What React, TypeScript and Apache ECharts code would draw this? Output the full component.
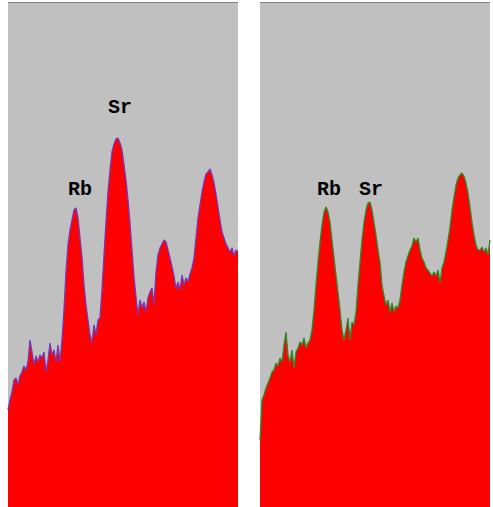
import React, { useEffect, useRef } from "react";
import * as echarts from "echarts";

// Counts per channel, left spectrum
const leftCounts = [
  97, 107, 115, 127, 129, 122, 131, 135, 141, 137, 145, 167, 155, 142, 151, 145, 152, 149, 155, 135,
  147, 164, 152, 157, 145, 162, 145, 167, 197, 235, 262, 277, 287, 297, 299, 289, 269, 250, 222, 202,
  187, 172, 164, 182, 172, 187, 189, 217, 252, 285, 315, 337, 355, 363, 368, 369, 364, 357, 342, 327,
  307, 284, 257, 230, 210, 192, 207, 199, 205, 195, 209, 215, 219, 202, 235, 252, 259, 263, 267, 265,
  257, 249, 240, 231, 218, 225, 217, 232, 222, 229, 225, 233, 239, 249, 269, 289, 302, 315, 325, 333,
  335, 338, 332, 324, 313, 300, 287, 275, 269, 263, 259, 255, 259, 251, 257, 255,
];

// Counts per channel, right spectrum
const rightCounts = [
  67, 107, 112, 119, 124, 129, 135, 137, 144, 141, 149, 145, 162, 175, 152, 145, 157, 139, 155, 159,
  165, 162, 169, 159, 164, 167, 177, 197, 222, 245, 265, 282, 295, 300, 295, 285, 267, 249, 232, 215,
  197, 177, 167, 177, 189, 167, 185, 182, 195, 222, 245, 267, 285, 297, 304, 305, 297, 285, 272, 257,
  245, 222, 211, 202, 207, 195, 204, 195, 201, 199, 207, 222, 235, 245, 251, 257, 261, 269, 265, 269,
  257, 249, 245, 239, 237, 234, 231, 235, 231, 237, 224, 239, 245, 255, 267, 280, 297, 310, 322, 329,
  332, 334, 331, 324, 314, 300, 285, 272, 262, 257, 257, 260, 255, 259, 252, 267,
];

const leftLabels = ["Rb", "Sr"];
const rightLabels = ["Rb", "Sr"];
const yMax = 505;

export default function App() {
  const ref = useRef<HTMLDivElement>(null);
  useEffect(() => {
    if (!ref.current) return;
    const chart = echarts.init(ref.current, null, { renderer: "svg" });
    const cats = (arr: number[]) => arr.map((_, i) => String(i));
    const labelStyle = {
      fill: "#000",
      font: 'bold 20px "Liberation Mono", "DejaVu Sans Mono", monospace',
      textAlign: "center",
      textVerticalAlign: "middle",
    };
    chart.setOption({
      animation: false,
      grid: [
        { left: 8, top: 2, width: 230, height: 505, show: true, backgroundColor: "#c0c0c0", borderWidth: 0 },
        { left: 260, top: 2, width: 230, height: 505, show: true, backgroundColor: "#c0c0c0", borderWidth: 0 },
      ],
      xAxis: [
        { type: "category", gridIndex: 0, data: cats(leftCounts), boundaryGap: false, show: false },
        { type: "category", gridIndex: 1, data: cats(rightCounts), boundaryGap: false, show: false },
      ],
      yAxis: [
        { type: "value", gridIndex: 0, min: 0, max: yMax, show: false },
        { type: "value", gridIndex: 1, min: 0, max: yMax, show: false },
      ],
      series: [
        {
          type: "line",
          xAxisIndex: 0,
          yAxisIndex: 0,
          data: leftCounts,
          showSymbol: false,
          lineStyle: { color: "#7a35b5", width: 1.3 },
          areaStyle: { color: "#ff0000", opacity: 1 },
        },
        {
          type: "line",
          xAxisIndex: 1,
          yAxisIndex: 1,
          data: rightCounts,
          showSymbol: false,
          lineStyle: { color: "#2e8a2a", width: 1.3 },
          areaStyle: { color: "#ff0000", opacity: 1 },
        },
      ],
      graphic: [
        { type: "line", shape: { x1: 8, y1: 2.5, x2: 238, y2: 2.5 }, style: { stroke: "#808080", lineWidth: 1 } },
        { type: "line", shape: { x1: 260, y1: 2.5, x2: 490, y2: 2.5 }, style: { stroke: "#808080", lineWidth: 1 } },
        { type: "text", x: 80, y: 189, style: { ...labelStyle, text: leftLabels[0] } },
        { type: "text", x: 120, y: 107, style: { ...labelStyle, text: leftLabels[1] } },
        { type: "text", x: 329, y: 189, style: { ...labelStyle, text: rightLabels[0] } },
        { type: "text", x: 371, y: 189, style: { ...labelStyle, text: rightLabels[1] } },
      ],
    });
    return () => chart.dispose();
  }, []);
  return (
    <div
      ref={ref}
      style={{ position: "fixed", left: 0, top: 0, width: 493, height: 507, background: "#fff" }}
    />
  );
}
